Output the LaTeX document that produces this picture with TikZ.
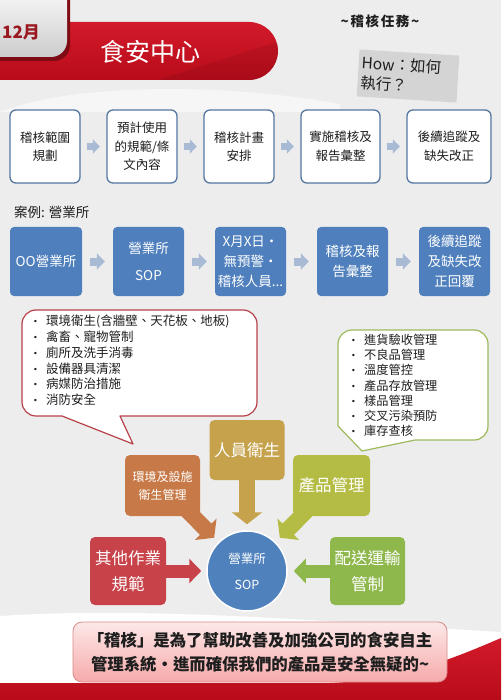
\documentclass[tikz,border=0pt]{standalone}
\usepackage{fontspec}
\setmainfont{Noto Sans CJK TC}
\newfontfamily\spacedfont{Noto Sans CJK TC}[LetterSpace=12]
\newfontfamily\dejavu{DejaVu Sans}
\usetikzlibrary{arrows.meta,shapes.geometric}
\pgfdeclarelayer{bgl}
\pgfdeclarelayer{arl}
\pgfsetlayers{bgl,arl,main}
\definecolor{bgc}{HTML}{EDEDED}
\definecolor{bannerred}{HTML}{C8121F}
\definecolor{bannerlight}{HTML}{D21A2A}
\definecolor{bannerdark}{HTML}{B80C1A}
\definecolor{darkred}{HTML}{9A1820}
\definecolor{tabshadow}{HTML}{7E0C14}
\definecolor{stepborder}{HTML}{56779F}
\definecolor{steparrow}{HTML}{A9BAD5}
\definecolor{caseblue}{HTML}{4F80BD}
\definecolor{calloutred}{HTML}{B8414A}
\definecolor{calloutgreen}{HTML}{9DBB5C}
\definecolor{personc}{HTML}{C5A24B}
\definecolor{envc}{HTML}{C77A48}
\definecolor{prodc}{HTML}{B5BC44}
\definecolor{otherc}{HTML}{C8424A}
\definecolor{delivc}{HTML}{8EB84C}
\definecolor{sopc}{HTML}{4F81BD}
\definecolor{pinktop}{HTML}{FDE8E8}
\definecolor{pinkbot}{HTML}{F6AAAA}
\definecolor{pinkborder}{HTML}{D98A8A}
\definecolor{howgrey}{HTML}{D4D4D4}
\definecolor{inktext}{HTML}{1E1E1E}
\newcommand\bul{\makebox[13pt][l]{\dejavu\fontsize{8}{8}\selectfont\raisebox{1pt}{•}}}
\begin{document}
\begin{tikzpicture}[x=1pt,y=-1pt,
  stepbox/.style={draw=stepborder, line width=1.3pt, fill=white, rounded corners=6pt,
    minimum height=73pt, inner sep=1pt, align=center, text=inktext,
    font=\fontsize{12.5}{18.5}\selectfont},
  casebox/.style={fill=caseblue, rounded corners=4pt, minimum height=69pt, inner sep=1pt,
    align=center, text=white, font=\fontsize{13.5}{20}\selectfont},
  steparr/.style={draw=steparrow, line width=7pt, -{Triangle[length=7pt,width=14pt]},
    shorten >=6.5pt, shorten <=6.5pt},
  diagbox/.style={rounded corners=5pt, text=white, align=center, inner sep=0pt},
  bigarr/.style={line width=16pt, -{Triangle[length=12pt,width=30pt]}},
  harr/.style={line width=13pt, -{Triangle[length=12pt,width=24pt]}},
  listtext/.style={anchor=north west, align=left, inner sep=0pt, text=inktext}
]
\useasboundingbox (0,0) rectangle (501,700);

% ---------- background ----------
\begin{pgfonlayer}{bgl}
\fill[bgc] (0,0) rectangle (501,700);
\fill[white,opacity=.55] (0,112) .. controls (70,84) and (220,82) .. (340,104) -- (340,112) -- cycle;
\fill[white] (0,616) .. controls (150,606) and (330,622) .. (501,632) -- (501,700) -- (0,700) -- cycle;
\shade[top color=bannerlight, bottom color=bannerdark]
  (0,683) -- (330,683) .. controls (400,680) and (450,660) .. (501,638) -- (501,700) -- (0,700) -- cycle;
% banner
\shade[top color=bannerlight, bottom color=bannerdark, rounded corners=29pt] (-40,22) rectangle (278,80);
\begin{scope}
  \clip[rounded corners=29pt] (-40,22) rectangle (278,80);
  \fill[black,opacity=.07] (157,80) -- (290,38) -- (290,82) -- (157,82) -- cycle;
\end{scope}
% tab
\fill[tabshadow, rounded corners=16pt] (-20,-20) rectangle (70,61);
\shade[top color=white, bottom color=black!20, rounded corners=16pt] (-20,-20) rectangle (67,57);
\end{pgfonlayer}

% ---------- header texts ----------
\node[text=darkred, font=\bfseries\fontsize{17}{20}\selectfont, inner sep=0pt] (month) at (21,32) {12月};
\node[text=white, font=\fontsize{25}{28}\selectfont, inner sep=0pt] (title) at (150,52) {食安中心};
\node[text=inktext, font=\spacedfont\bfseries\fontsize{13.5}{16}\selectfont, inner sep=0pt] (task) at (380,21) {\textasciitilde 稽核任務\textasciitilde};
\node[fill=howgrey, rotate=-3.5, minimum height=47pt, text width=94pt, align=left, inner sep=3pt,
  text=inktext, font=\fontsize{15.5}{20}\selectfont] (how) at (408,76) {How：如何\\執行？};

% ---------- row 1 ----------
\node[stepbox, minimum width=70pt] (s1) at (45,146.5) {稽核範圍\\規劃};
\node[stepbox, minimum width=70pt] (s2) at (142,146.5) {預計使用\\的規範/條\\文內容};
\node[stepbox, minimum width=70pt] (s3) at (239,146.5) {稽核計畫\\安排};
\node[stepbox, minimum width=79pt] (s4) at (340.5,146.5) {實施稽核及\\報告彙整};
\node[stepbox, minimum width=84pt] (s5) at (449,146.5) {後續追蹤及\\缺失改正};
\foreach \a/\b in {s1/s2,s2/s3,s3/s4,s4/s5} \draw[steparr] (\a) -- (\b);

% ---------- row 2 ----------
\node[anchor=west, text=inktext, inner sep=0pt, font=\fontsize{13.5}{16}\selectfont] (case) at (14,212) {案例: 營業所};
\node[casebox, minimum width=72pt] (c1) at (46,261.5) {OO營業所};
\node[casebox, minimum width=71pt] (c2) at (148.5,261.5) {營業所\\[7pt]SOP};
\node[casebox, minimum width=71pt] (c3) at (250.5,261.5) {X月X日‧\\無預警‧\\稽核人員...};
\node[casebox, minimum width=71pt] (c4) at (352.5,261.5) {稽核及報\\告彙整};
\node[casebox, minimum width=71pt] (c5) at (454.5,261.5) {後續追蹤\\及缺失改\\正回覆};
\foreach \a/\b in {c1/c2,c2/c3,c3/c4,c4/c5} \draw[steparr, line width=8pt, -{Triangle[length=8pt,width=16pt]}, shorten >=8pt, shorten <=8pt] (\a) -- (\b);

% ---------- callouts ----------
\filldraw[fill=white, draw=calloutred, line width=1.2pt, line join=round]
  (62,416) -- (36,416) arc[start angle=90, end angle=180, radius=14]
  -- (22,324) arc[start angle=180, end angle=270, radius=14]
  -- (243,310) arc[start angle=270, end angle=360, radius=14]
  -- (257,402) arc[start angle=0, end angle=90, radius=14]
  -- (120,416) -- (133,444) -- cycle;
\node[listtext, font=\fontsize{12.5}{15.8}\selectfont] (leftlist) at (33,315)
  {\bul 環境衛生(含牆壁、天花板、地板)\\
   \bul 禽畜、寵物管制\\
   \bul 廁所及洗手消毒\\
   \bul 設備器具清潔\\
   \bul 病媒防治措施\\
   \bul 消防安全};

\filldraw[fill=white, draw=calloutgreen, line width=1.2pt, line join=round]
  (338,426) -- (338,344) arc[start angle=180, end angle=270, radius=14]
  -- (474,330) arc[start angle=270, end angle=360, radius=14]
  -- (488,426) arc[start angle=0, end angle=90, radius=14]
  -- (415,440) -- (362,451) -- cycle;
\node[listtext, font=\fontsize{12.2}{15.2}\selectfont] (rightlist) at (351,334)
  {\bul 進貨驗收管理\\
   \bul 不良品管理\\
   \bul 溫度管控\\
   \bul 產品存放管理\\
   \bul 樣品管理\\
   \bul 交叉污染預防\\
   \bul 庫存查核};

% ---------- diagram ----------
\node[diagbox, fill=personc, minimum width=75pt, minimum height=60pt, font=\fontsize{16.5}{20}\selectfont] (person) at (247,450) {人員衛生};
\node[diagbox, fill=envc, minimum width=75pt, minimum height=61pt, font=\fontsize{12}{18}\selectfont] (env) at (162.5,485.5) {環境及設施\\衛生管理};
\node[diagbox, fill=prodc, minimum width=77pt, minimum height=61pt, font=\fontsize{16.5}{20}\selectfont] (prod) at (331.5,485.5) {產品管理};
\node[diagbox, fill=otherc, minimum width=76pt, minimum height=68pt, font=\fontsize{16.5}{26}\selectfont] (other) at (128,571) {其他作業\\規範};
\node[diagbox, fill=delivc, minimum width=75pt, minimum height=68pt, font=\fontsize{16.5}{26}\selectfont] (deliv) at (367.5,571) {配送運輸\\管制};
\node[circle, fill=sopc, draw=white, line width=1.5pt, minimum size=80pt, inner sep=0pt, text=white,
  align=center, font=\fontsize{12.5}{26}\selectfont] (sop) at (247,571) {營業所\\SOP};

\begin{pgfonlayer}{arl}
\draw[bigarr, personc, shorten >=6pt] (person) -- (sop);
\draw[bigarr, envc, shorten <=-14pt, shorten >=6pt] (env) -- (sop);
\draw[bigarr, prodc, shorten <=-14pt, shorten >=6pt] (prod) -- (sop);
\draw[harr, otherc, shorten >=5pt] (other) -- (sop);
\draw[harr, delivc, shorten >=6pt] (deliv) -- (sop);
\end{pgfonlayer}

% ---------- bottom motto ----------
\node[draw=pinkborder, line width=0.8pt, top color=pinktop, bottom color=pinkbot, rounded corners=9pt,
  minimum width=374pt, minimum height=60pt, align=center, inner sep=0pt, text=inktext,
  font=\bfseries\fontsize{16.4}{24}\selectfont] (motto) at (260,652)
  {「稽核」是為了幫助改善及加強公司的食安自主\\管理系統‧進而確保我們的產品是安全無疑的\textasciitilde};
\end{tikzpicture}
\end{document}
